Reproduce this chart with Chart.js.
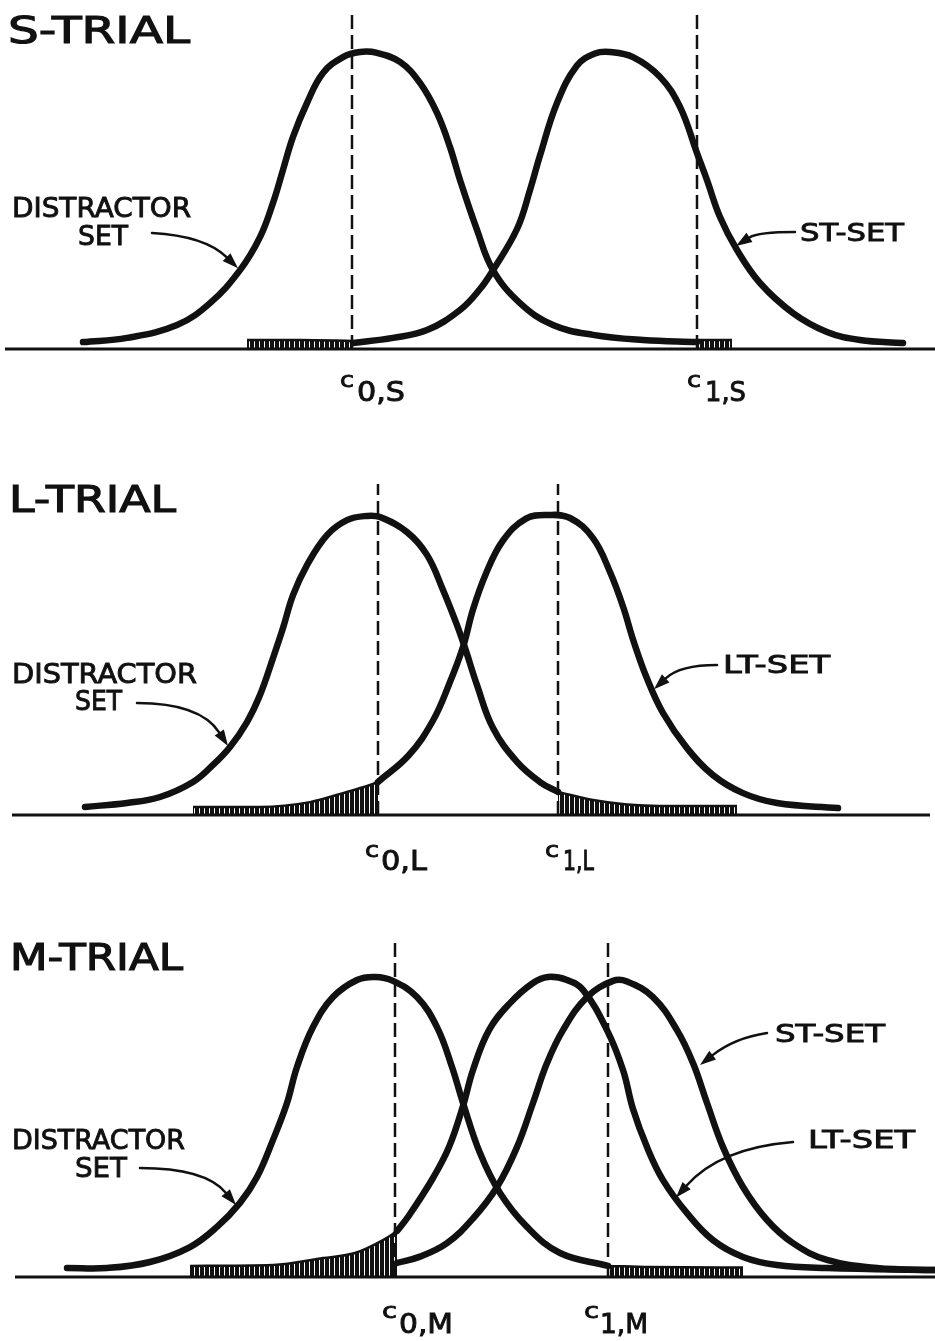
<!DOCTYPE html>
<html>
<head>
<meta charset="utf-8">
<title>S-, L- and M-trial distributions</title>
<script src="https://cdn.jsdelivr.net/npm/chart.js@4.4.1/dist/chart.umd.min.js"></script>
<style>
  html, body { margin: 0; padding: 0; background: #fff; overflow: hidden; }
  body { width: 935px; height: 1341px; position: relative; }
  canvas { position: absolute; left: 0; }
</style>
</head>
<body>
<canvas id="trialS" width="935" height="413" style="top:0px"></canvas>
<canvas id="trialL" width="935" height="413" style="top:466px"></canvas>
<canvas id="trialM" width="935" height="413" style="top:928px"></canvas>
<script>
// ===== Data: x = stimulus value, y = relative frequency (peak ~100) =====

// S-trial
const distS_x = [8.3, 12.7, 17.7, 21.0, 24.0, 26.0, 27.3, 28.3, 29.3, 30.7, 32.3, 34.3, 36.0, 37.7, 40.0, 42.0, 43.7, 45.0, 46.0, 47.7, 49.3, 52.0, 55.3, 59.3, 64.3, 69.7];
const distS_y = [2.3, 3.7, 8.0, 15.3, 26.3, 37.3, 48.7, 59.7, 70.7, 82.0, 92.0, 97.3, 99.0, 98.7, 95.7, 88.7, 78.7, 67.3, 56.3, 39.7, 26.3, 15.3, 8.0, 4.7, 3.0, 2.3];
const stS_x = [35.3, 39.3, 42.7, 46.0, 48.0, 49.3, 51.7, 53.0, 54.0, 55.7, 57.7, 59.5, 61.0, 63.3, 66.0, 68.0, 69.7, 70.7, 72.0, 73.7, 76.0, 79.3, 82.7, 86.0, 90.3];
const stS_y = [2.0, 3.7, 6.3, 13.0, 20.0, 26.3, 40.0, 53.0, 64.5, 82.0, 94.5, 98.5, 99.0, 97.3, 90.7, 80.7, 65.3, 56.3, 44.0, 33.0, 22.0, 12.0, 5.7, 3.0, 2.0];
const tailS0_x = [24.7, 30.0, 35.3];
const tailS0_y = [3.0, 3.0, 2.7];
const tailS1_x = [69.7, 73.2];
const tailS1_y = [3.0, 3.0];
const critS = [35.2, 69.7];

// L-trial
const distL_x = [8.5, 12.7, 16.0, 19.3, 21.3, 23.0, 24.7, 26.0, 27.3, 28.3, 29.3, 30.7, 32.7, 34.7, 36.7, 38.0, 40.7, 42.7, 44.3, 45.7, 46.5, 47.7, 49.3, 51.7, 54.0, 55.8];
const distL_y = [2.7, 4.0, 6.0, 11.0, 16.7, 22.7, 31.0, 40.0, 52.3, 62.3, 73.3, 83.3, 93.3, 98.3, 99.7, 99.3, 94.3, 86.7, 75.0, 63.3, 55.7, 43.3, 29.0, 17.7, 11.0, 7.7];
const ltL_x = [37.8, 40.9, 43.3, 44.9, 46.3, 47.3, 48.6, 50.3, 52.6, 54.8, 57.0, 59.3, 61.0, 62.3, 63.4, 64.7, 66.3, 68.7, 71.3, 74.3, 77.7, 83.8];
const ltL_y = [11.0, 20.0, 31.5, 43.5, 56.0, 68.5, 80.5, 91.5, 98.8, 100, 99.0, 92.3, 81.0, 69.5, 57.5, 45.5, 34.0, 22.3, 13.3, 7.3, 4.0, 2.3];
const tailL0_x = [19.3, 26.0, 31.0, 34.3, 37.0, 37.8];
const tailL0_y = [2.7, 2.7, 4.3, 7.3, 10.0, 11.0];
const tailL1_x = [55.8, 59.3, 62.7, 66.0, 73.7];
const tailL1_y = [7.7, 5.0, 3.5, 3.0, 3.0];
const critL = [37.8, 55.8];

// M-trial
const distM_x = [6.7, 10.7, 15.0, 19.0, 21.7, 24.0, 25.7, 27.3, 28.7, 29.7, 31.3, 33.3, 35.7, 37.5, 39.3, 41.7, 43.7, 45.2, 46.3, 48.0, 50.0, 52.7, 56.0, 60.8];
const distM_y = [3.0, 3.0, 5.0, 10.0, 16.7, 24.7, 33.3, 45.7, 58.0, 70.0, 83.3, 93.3, 99.0, 100, 98.7, 93.3, 83.3, 70.0, 58.0, 41.3, 28.0, 16.7, 8.0, 3.7];
const ltM_x = [39.7, 40.9, 43.3, 44.9, 46.3, 47.3, 48.9, 51.0, 53.3, 54.8, 56.7, 58.3, 60.7, 62.3, 63.3, 64.7, 66.3, 68.7, 71.3, 74.3, 77.7, 82.7, 93.5];
const ltM_y = [15.3, 20.5, 33.0, 43.3, 57.0, 69.0, 82.3, 91.3, 98.0, 100, 99.0, 95.7, 82.3, 69.0, 56.0, 43.3, 32.3, 21.3, 12.3, 6.7, 4.0, 3.0, 2.3];
const stM_x = [39.7, 42.0, 44.7, 47.3, 49.7, 51.7, 53.3, 54.7, 56.3, 58.7, 61.3, 62.7, 65.3, 67.7, 69.3, 70.7, 72.3, 74.3, 76.7, 79.3, 82.7, 87.7, 93.5];
const stM_y = [4.7, 6.8, 11.3, 19.5, 30.0, 43.3, 58.0, 71.3, 82.3, 93.3, 98.7, 98.5, 93.3, 82.3, 71.3, 58.0, 43.3, 30.0, 19.0, 11.3, 5.7, 3.0, 2.3];
const tailM0_x = [19.0, 27.3, 32.3, 35.5, 38.3, 39.7];
const tailM0_y = [3.7, 4.0, 6.3, 8.0, 12.3, 15.3];
const tailM1_x = [60.8, 65.0, 74.3];
const tailM1_y = [3.7, 3.3, 3.2];
const critM = [39.5, 60.8];

// ===== Styling =====
const ink = '#111';
const FONT = '"DejaVu Sans", "Liberation Sans", sans-serif';

// vertical hatching for the shaded tails
const hatchCanvas = document.createElement('canvas');
hatchCanvas.width = 5;
hatchCanvas.height = 4;
const hctx = hatchCanvas.getContext('2d');
hctx.fillStyle = '#fff';
hctx.fillRect(0, 0, 5, 4);
hctx.fillStyle = ink;
hctx.fillRect(0, 0, 4, 4);
const hatch = hctx.createPattern(hatchCanvas, 'repeat');

const pts = (xs, ys) => xs.map((x, i) => ({ x, y: ys[i] }));

function curve(xs, ys) {
  return {
    data: pts(xs, ys), borderColor: ink, borderWidth: 6.5,
    borderCapStyle: 'round', borderJoinStyle: 'round',
    pointRadius: 0, tension: 0.4, fill: false, order: 1,
  };
}

function tail(xs, ys) {
  return {
    data: pts(xs, ys), borderColor: ink, borderWidth: 2.5,
    pointRadius: 0, cubicInterpolationMode: 'monotone',
    fill: 'origin', backgroundColor: hatch, order: 3,
  };
}

function criterion(x, top) {
  return {
    data: [{ x, y: 0 }, { x, y: top }], borderColor: ink, borderWidth: 2.5,
    borderDash: [14, 6], pointRadius: 0, fill: false, order: 0,
  };
}

function axisLine(x0, x1) {
  return {
    data: [{ x: x0, y: 0 }, { x: x1, y: 0 }], borderColor: ink, borderWidth: 3,
    pointRadius: 0, fill: false, order: 0,
  };
}

// ===== Lettering and arrows (positions in data units) =====
function drawLabel(ctx, xs, ys, l) {
  ctx.font = `${l.size}px ${FONT}`;
  const px = xs.getPixelForValue(l.x);
  const py = ys.getPixelForValue(l.y);
  const target = xs.getPixelForValue(l.x + l.w) - px;
  const natural = ctx.measureText(l.text).width;
  ctx.save();
  ctx.translate(px, py);
  ctx.scale(target / natural, 1);
  ctx.textAlign = 'left';
  ctx.textBaseline = 'alphabetic';
  ctx.lineWidth = l.size > 30 ? 1.2 : 0.9;
  ctx.fillText(l.text, 0, 0);
  ctx.strokeText(l.text, 0, 0);
  ctx.restore();
}

function drawArrow(ctx, xs, ys, a) {
  const p0 = [xs.getPixelForValue(a.from[0]), ys.getPixelForValue(a.from[1])];
  const c = [xs.getPixelForValue(a.ctrl[0]), ys.getPixelForValue(a.ctrl[1])];
  const p1 = [xs.getPixelForValue(a.to[0]), ys.getPixelForValue(a.to[1])];
  const ang = Math.atan2(p1[1] - c[1], p1[0] - c[0]);
  const head = 16, half = 5.5;
  const base = [p1[0] - head * Math.cos(ang), p1[1] - head * Math.sin(ang)];
  ctx.lineWidth = 2.5;
  ctx.lineCap = 'round';
  ctx.beginPath();
  ctx.moveTo(p0[0], p0[1]);
  ctx.quadraticCurveTo(c[0], c[1], base[0], base[1]);
  ctx.stroke();
  ctx.beginPath();
  ctx.moveTo(p1[0], p1[1]);
  ctx.lineTo(base[0] + half * Math.sin(ang), base[1] - half * Math.cos(ang));
  ctx.lineTo(base[0] - half * Math.sin(ang), base[1] + half * Math.cos(ang));
  ctx.closePath();
  ctx.fill();
}

function lettering(labels, arrows) {
  return {
    id: 'lettering',
    afterDatasetsDraw(chart) {
      const { ctx, scales: { x, y } } = chart;
      ctx.save();
      ctx.fillStyle = ink;
      ctx.strokeStyle = ink;
      arrows.forEach((a) => drawArrow(ctx, x, y, a));
      labels.forEach((l) => drawLabel(ctx, x, y, l));
      ctx.restore();
    },
  };
}

function makePanel(id, datasets, labels, arrows) {
  return new Chart(document.getElementById(id), {
    type: 'line',
    data: { datasets },
    options: {
      responsive: false,
      animation: false,
      layout: { padding: 0 },
      plugins: { legend: { display: false }, tooltip: { enabled: false } },
      scales: {
        x: { type: 'linear', min: 0, max: 93.5, display: false },
        y: { min: -21.33, max: 116.33, display: false },
      },
    },
    plugins: [lettering(labels, arrows)],
  });
}

// ===== S-trial =====
makePanel('trialS', [
  tail(tailS0_x, tailS0_y),
  tail(tailS1_x, tailS1_y),
  curve(distS_x, distS_y),
  curve(stS_x, stS_y),
  criterion(critS[0], 112.3),
  criterion(critS[1], 112.3),
  axisLine(0.5, 93.5),
], [
  { text: 'S-TRIAL', x: 0.8, y: 102, w: 18.2, size: 38 },
  { text: 'DISTRACTOR', x: 1.2, y: 44, w: 17.9, size: 27 },
  { text: 'SET', x: 7.8, y: 34.7, w: 5.0, size: 27 },
  { text: 'ST-SET', x: 80.0, y: 36, w: 10.4, size: 25 },
  { text: 'c', x: 34.0, y: -12.7, w: 1.4, size: 22 },
  { text: '0,S', x: 35.7, y: -17.3, w: 4.8, size: 26 },
  { text: 'c', x: 68.7, y: -12.7, w: 1.4, size: 22 },
  { text: '1,S', x: 70.5, y: -17.3, w: 4.1, size: 26 },
], [
  { from: [15.2, 38.7], ctrl: [20.5, 37.7], to: [23.8, 26.9] },
  { from: [79.5, 39.0], ctrl: [75.8, 39.0], to: [73.6, 34.3] },
]);

// ===== L-trial =====
makePanel('trialL', [
  tail(tailL0_x, tailL0_y),
  tail(tailL1_x, tailL1_y),
  curve(distL_x, distL_y),
  curve(ltL_x, ltL_y),
  criterion(critL[0], 110.3),
  criterion(critL[1], 110.3),
  axisLine(1.2, 93.0),
], [
  { text: 'L-TRIAL', x: 0.9, y: 101, w: 16.7, size: 38 },
  { text: 'DISTRACTOR', x: 1.2, y: 44, w: 18.5, size: 27 },
  { text: 'SET', x: 7.5, y: 35, w: 4.7, size: 27 },
  { text: 'LT-SET', x: 72.3, y: 47.3, w: 10.7, size: 25 },
  { text: 'c', x: 36.5, y: -14, w: 1.4, size: 22 },
  { text: '0,L', x: 38.1, y: -18.3, w: 4.6, size: 26 },
  { text: 'c', x: 54.5, y: -14, w: 1.4, size: 22 },
  { text: '1,L', x: 56.3, y: -18.3, w: 3.1, size: 26 },
], [
  { from: [13.7, 37.3], ctrl: [20.0, 37.3], to: [22.8, 23.0] },
  { from: [71.7, 50.0], ctrl: [68.0, 50.0], to: [65.4, 41.9] },
]);

// ===== M-trial =====
makePanel('trialM', [
  tail(tailM0_x, tailM0_y),
  tail(tailM1_x, tailM1_y),
  curve(distM_x, distM_y),
  curve(ltM_x, ltM_y),
  curve(stM_x, stM_y),
  criterion(critM[0], 111.7),
  criterion(critM[1], 111.7),
  axisLine(1.5, 93.5),
], [
  { text: 'M-TRIAL', x: 1.0, y: 102.3, w: 17.3, size: 38 },
  { text: 'DISTRACTOR', x: 1.2, y: 42.7, w: 17.3, size: 27 },
  { text: 'SET', x: 7.5, y: 33.3, w: 5.2, size: 27 },
  { text: 'ST-SET', x: 77.5, y: 78.3, w: 11.0, size: 25 },
  { text: 'LT-SET', x: 80.8, y: 43, w: 10.7, size: 25 },
  { text: 'c', x: 38.2, y: -13.7, w: 1.5, size: 22 },
  { text: '0,M', x: 39.9, y: -18.7, w: 5.4, size: 26 },
  { text: 'c', x: 58.4, y: -13.7, w: 1.5, size: 22 },
  { text: '1,M', x: 60.0, y: -18.7, w: 4.8, size: 26 },
], [
  { from: [14.0, 36.3], ctrl: [20.5, 36.3], to: [23.6, 24.0] },
  { from: [76.7, 81.3], ctrl: [73.5, 79.7], to: [70.0, 70.7] },
  { from: [79.3, 45.0], ctrl: [72.0, 43.0], to: [67.6, 26.5] },
]);
</script>
</body>
</html>
